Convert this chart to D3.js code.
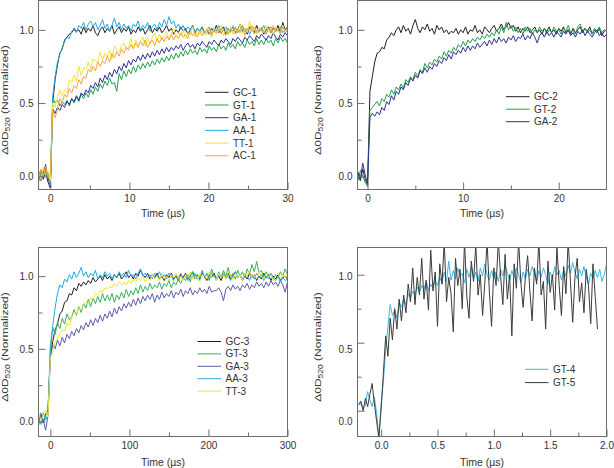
<!DOCTYPE html>
<html><head><meta charset="utf-8">
<script src="https://cdn.jsdelivr.net/npm/d3@7"></script>
<style>body{margin:0;background:#fff}text{font-family:"Liberation Sans",Arial,Helvetica,sans-serif}</style>
</head><body><svg id="c" width="614" height="468"></svg>
<script>
// ---------- time sampling (start, step) per panel ----------
const p1Time = {start: -1.5, step: 0.3};
const p2Time = {start: -1.0, step: 0.25};
const p3Time = {start: -15, step: 3};
const p4Time = {start: -0.2, step: 0.02};

// ---------- series names ----------
const p1Names = ["GC-1", "GT-1", "GA-1", "AA-1", "TT-1", "AC-1"];
const p2Names = ["GC-2", "GT-2", "GA-2"];
const p3Names = ["GC-3", "GT-3", "GA-3", "AA-3", "TT-3"];
const p4Names = ["GT-4", "GT-5"];

// ---------- tick values ----------
const p1XTicks = [0, 10, 20, 30], p1XMinor = [5, 15, 25];
const p2XTicks = [0, 10, 20], p2XMinor = [5, 15];
const p3XTicks = [0, 100, 200, 300], p3XMinor = [50, 150, 250];
const p4XTicks = [0, 0.5, 1.0, 1.5, 2.0], p4XMinor = [0.25, 0.75, 1.25, 1.75];
const yTicks = [0, 0.5, 1.0], yMinor = [0.25, 0.75];

// ---------- panel 1 series (normalized ΔOD) ----------
const gc1 = [0.00,0.04,-0.02,0.03,-0.04,-0.08,0.50,0.66,0.76,0.84,
0.87,0.93,0.95,0.97,0.98,1.01,0.99,1.00,0.97,1.02,
0.98,1.01,0.99,1.03,0.98,0.96,1.00,1.02,0.98,1.01,
0.99,1.03,0.97,1.00,1.02,0.98,1.01,0.99,1.02,0.97,
1.00,0.98,1.02,0.99,1.01,0.97,1.00,1.03,0.98,1.01,
0.99,1.02,0.98,1.00,1.03,0.99,1.01,0.97,1.00,0.98,
1.02,0.99,1.01,0.97,1.00,1.03,0.98,1.01,0.99,1.02,
0.98,1.00,0.97,1.01,0.99,1.03,0.98,1.00,1.02,0.97,
1.01,0.99,1.02,0.98,1.00,1.04,0.99,1.01,0.97,1.02,
1.00,0.98,1.03,0.99,1.01,0.97,1.00,1.02,0.98,1.01,
0.99,1.03,0.98,1.05,1.00,1.02];
const gt1 = [-0.04,0.02,-0.01,0.05,0.00,-0.06,0.54,0.50,0.52,0.48,
0.51,0.49,0.52,0.48,0.53,0.50,0.54,0.51,0.56,0.53,
0.57,0.54,0.59,0.56,0.61,0.58,0.63,0.60,0.65,0.62,
0.67,0.63,0.64,0.58,0.70,0.66,0.72,0.68,0.73,0.70,
0.75,0.71,0.76,0.73,0.77,0.74,0.78,0.75,0.79,0.76,
0.80,0.77,0.81,0.78,0.82,0.79,0.83,0.80,0.84,0.81,
0.85,0.82,0.86,0.83,0.87,0.84,0.86,0.83,0.88,0.85,
0.87,0.84,0.89,0.86,0.88,0.85,0.90,0.87,0.89,0.86,
0.91,0.88,0.90,0.87,0.92,0.89,0.91,0.88,0.93,0.90,
0.92,0.89,0.94,0.90,0.93,0.90,0.94,0.91,0.93,0.89,
0.94,0.91,0.95,0.92,0.94,0.91];
const ga1 = [0.04,-0.03,0.02,0.08,-0.02,-0.05,0.46,0.43,0.47,0.45,
0.49,0.47,0.51,0.49,0.53,0.51,0.55,0.52,0.57,0.55,
0.59,0.57,0.62,0.60,0.64,0.61,0.67,0.64,0.69,0.66,
0.71,0.68,0.73,0.70,0.75,0.72,0.77,0.74,0.79,0.76,
0.80,0.78,0.82,0.79,0.83,0.80,0.84,0.81,0.85,0.82,
0.86,0.83,0.87,0.84,0.88,0.85,0.88,0.86,0.89,0.87,
0.90,0.86,0.89,0.91,0.88,0.90,0.87,0.91,0.89,0.92,
0.90,0.88,0.92,0.90,0.93,0.91,0.89,0.93,0.91,0.94,
0.92,0.90,0.94,0.92,0.95,0.93,0.91,0.95,0.93,0.96,
0.94,0.92,0.96,0.94,0.97,0.95,0.93,0.96,0.94,0.98,
0.95,0.93,0.97,0.95,0.98,0.96];
const aa1 = [0.02,-0.03,0.05,0.00,0.03,-0.06,0.55,0.68,0.78,0.83,
0.88,0.92,0.95,0.94,0.99,1.00,0.98,1.03,1.01,1.05,
1.00,1.04,1.06,1.02,1.05,1.00,1.03,1.07,1.01,1.04,
0.99,1.03,1.08,1.02,1.05,1.00,1.04,1.01,1.03,0.99,
1.04,1.02,1.06,1.00,1.03,1.01,1.05,0.99,1.02,1.04,
1.00,1.05,1.02,1.07,1.03,1.09,1.04,1.06,1.01,1.04,
1.00,1.03,0.99,1.02,1.00,1.03,0.98,1.01,0.99,1.02,
0.98,1.00,1.02,0.97,1.01,0.99,1.03,0.98,1.00,1.02,
0.97,1.01,0.99,1.02,0.98,1.00,1.03,0.99,1.01,0.97,
1.00,1.02,0.98,1.01,0.99,1.03,0.98,1.00,1.02,0.97,
1.01,0.99,1.02,0.98,1.00,0.99];
const tt1 = [0.03,-0.02,0.06,0.01,0.04,-0.03,0.50,0.47,0.54,0.59,
0.55,0.59,0.57,0.66,0.64,0.69,0.65,0.75,0.69,0.74,
0.73,0.78,0.73,0.80,0.79,0.78,0.85,0.79,0.84,0.82,
0.86,0.80,0.89,0.86,0.85,0.89,0.91,0.87,0.88,0.94,
0.87,0.93,0.90,0.92,0.95,0.89,0.95,0.90,0.95,0.98,
0.92,0.97,0.93,0.96,0.99,0.94,0.97,1.01,0.95,0.98,
0.96,1.00,0.94,0.98,0.97,1.02,0.95,0.99,0.97,1.00,
0.96,1.01,0.98,0.95,1.02,0.97,0.99,1.03,0.96,1.00,
0.98,1.02,0.97,1.00,0.99,1.04,0.97,1.01,0.98,1.06,
0.99,1.02,0.97,1.01,1.00,0.98,1.03,0.99,1.01,0.97,
1.02,1.00,0.98,1.03,0.99,1.01];
const ac1 = [-0.02,0.05,0.00,0.07,-0.01,0.02,0.44,0.40,0.46,0.53,
0.50,0.56,0.54,0.60,0.57,0.62,0.60,0.66,0.63,0.68,
0.67,0.73,0.71,0.75,0.72,0.78,0.75,0.79,0.77,0.82,
0.78,0.84,0.81,0.85,0.82,0.87,0.84,0.88,0.86,0.90,
0.87,0.91,0.88,0.92,0.89,0.93,0.88,0.91,0.93,0.89,
0.94,0.91,0.95,0.92,0.96,0.93,0.97,0.93,0.96,0.94,
0.98,0.95,0.97,0.94,0.99,0.96,0.98,0.95,1.00,0.96,
0.99,0.97,1.01,0.96,0.99,0.98,1.02,0.97,1.00,0.96,
1.01,0.98,1.03,0.97,1.00,0.98,1.02,0.96,1.01,0.99,
1.03,0.97,1.00,0.98,1.02,0.99,0.97,1.01,0.98,1.03,
0.99,1.00,0.97,1.02,0.98,1.00];

// ---------- panel 2 series ----------
const gc2 = [0.02,-0.03,0.05,-0.02,-0.06,0.58,0.68,0.78,0.84,0.85,
0.88,0.87,0.93,0.95,0.98,0.96,1.00,1.02,0.98,1.03,
0.99,1.01,0.97,1.03,1.07,1.01,0.98,1.02,1.00,1.04,
0.99,1.01,0.97,1.03,1.00,1.02,0.98,1.00,0.97,0.99,
0.98,1.01,0.97,1.00,0.98,1.02,0.97,1.00,0.99,1.03,
0.98,1.00,0.97,1.02,1.00,0.98,1.01,1.03,0.99,1.01,
1.04,1.00,1.02,1.05,1.01,1.03,0.99,1.02,0.98,1.01,
0.99,1.02,0.98,1.00,1.02,0.98,1.00,0.97,1.01,0.99,
1.02,0.98,1.00,0.97,1.01,0.99,1.02,0.98,1.00,0.97,
1.01,0.98,1.00,1.02,0.98,1.01,0.99,1.02,0.97,1.00,
0.98,1.01,0.96,0.99,1.00];
const gt2 = [-0.03,0.04,0.00,-0.04,-0.07,0.45,0.47,0.49,0.51,0.48,
0.53,0.51,0.56,0.54,0.59,0.56,0.61,0.59,0.63,0.60,
0.66,0.64,0.68,0.66,0.71,0.68,0.73,0.71,0.77,0.74,
0.78,0.76,0.80,0.78,0.82,0.80,0.85,0.82,0.86,0.84,
0.88,0.86,0.90,0.88,0.92,0.89,0.93,0.91,0.94,0.92,
0.95,0.93,0.96,0.94,0.97,0.95,0.98,0.96,1.00,0.97,
1.02,0.98,1.05,1.00,1.03,0.99,1.02,0.98,1.01,0.97,
1.02,0.99,1.01,0.97,1.00,0.98,1.02,0.99,1.01,0.97,
1.00,0.98,1.02,0.99,1.00,0.97,1.01,0.99,1.03,0.98,
1.00,0.97,1.02,1.04,0.99,1.01,0.98,1.00,0.97,1.01,
0.99,1.02,0.98,1.00,0.99];
const ga2 = [0.03,-0.02,0.09,0.01,-0.05,0.40,0.43,0.41,0.44,0.42,
0.47,0.45,0.51,0.49,0.55,0.52,0.58,0.56,0.61,0.59,
0.64,0.62,0.67,0.65,0.69,0.67,0.72,0.70,0.74,0.71,
0.75,0.73,0.77,0.75,0.79,0.77,0.81,0.79,0.83,0.80,
0.85,0.83,0.86,0.84,0.88,0.85,0.89,0.86,0.89,0.87,
0.91,0.88,0.90,0.92,0.89,0.93,0.90,0.94,0.91,0.95,
0.92,0.94,0.91,0.95,0.93,0.96,0.92,0.95,0.94,0.97,
0.93,0.96,0.94,0.98,0.95,0.91,0.96,0.98,0.95,0.99,
0.96,0.98,0.95,0.99,0.97,0.95,0.99,0.97,1.00,0.96,
0.98,0.95,0.99,0.97,1.00,0.96,0.99,0.97,0.95,0.98,
1.00,0.96,0.98,0.95,0.97];

// ---------- panel 3 series ----------
const gc3 = [0.00,0.04,-0.01,0.05,0.08,0.45,0.55,0.63,0.67,0.74,
0.76,0.82,0.83,0.88,0.87,0.92,0.90,0.95,0.93,0.96,
0.94,0.97,0.95,0.99,0.96,0.98,1.00,0.97,1.01,0.98,
1.00,0.97,1.01,0.99,1.02,0.98,1.00,1.03,0.99,1.01,
0.98,1.02,1.00,1.04,1.01,0.99,1.02,0.98,1.01,0.99,
1.02,0.98,1.00,0.97,1.01,0.99,1.02,0.98,1.00,0.97,
1.01,0.99,1.02,0.98,1.00,1.03,0.99,1.01,0.98,1.02,
1.00,0.97,1.01,0.99,1.02,0.98,1.00,0.97,1.01,0.99,
1.02,0.98,1.00,1.03,0.99,1.01,0.97,1.00,0.98,1.02,
0.99,1.01,0.97,1.00,0.98,1.02,0.99,1.01,0.97,1.00,
0.98,1.01,0.97,0.99,1.00,0.98];
const gt3 = [0.02,0.06,-0.01,0.04,0.07,0.52,0.65,0.60,0.68,0.64,
0.71,0.67,0.74,0.70,0.72,0.77,0.73,0.79,0.75,0.81,
0.78,0.84,0.79,0.85,0.81,0.86,0.82,0.88,0.83,0.87,
0.83,0.88,0.82,0.87,0.84,0.89,0.85,0.91,0.86,0.90,
0.87,0.92,0.88,0.94,0.89,0.93,0.90,0.95,0.91,0.94,
0.92,0.96,0.91,0.95,0.93,0.97,0.92,0.96,0.94,0.98,
0.95,0.99,0.97,1.01,0.96,1.03,0.98,1.01,0.97,1.04,
0.99,1.02,0.97,1.05,1.00,0.98,1.03,0.99,1.04,1.00,
1.06,0.99,1.02,0.98,1.04,1.00,1.03,0.99,1.05,1.01,
1.08,1.03,1.10,1.02,1.04,0.99,1.03,1.00,1.02,0.98,
1.01,0.99,1.03,1.00,1.05,1.01];
const ga3 = [-0.03,0.05,0.01,-0.06,0.04,0.44,0.53,0.50,0.56,0.52,
0.58,0.54,0.60,0.57,0.62,0.59,0.64,0.61,0.66,0.63,
0.68,0.65,0.70,0.66,0.71,0.68,0.73,0.69,0.74,0.71,
0.76,0.72,0.78,0.74,0.79,0.76,0.81,0.78,0.82,0.79,
0.84,0.80,0.85,0.81,0.86,0.83,0.87,0.84,0.88,0.82,
0.87,0.84,0.89,0.85,0.88,0.86,0.90,0.85,0.89,0.87,
0.91,0.86,0.90,0.88,0.92,0.87,0.90,0.88,0.92,0.89,
0.91,0.88,0.93,0.89,0.90,0.90,0.92,0.89,0.83,0.91,
0.93,0.90,0.94,0.91,0.93,0.90,0.94,0.92,0.95,0.91,
0.94,0.92,0.96,0.93,0.95,0.92,0.96,0.93,0.97,0.94,
0.96,0.93,0.97,0.94,0.89,0.96];
const aa3 = [0.03,-0.02,0.06,0.01,0.05,0.47,0.66,0.78,0.88,0.94,
0.92,0.98,0.96,1.01,0.98,1.03,0.99,1.02,1.06,1.00,
1.03,0.99,1.02,1.00,1.04,0.98,1.01,0.99,1.03,1.00,
1.02,0.98,1.01,0.99,1.03,1.00,1.02,0.99,1.04,1.00,
1.01,0.98,1.02,1.05,1.00,1.02,0.99,1.01,0.98,1.02,
1.00,1.03,0.99,1.01,0.98,1.02,1.00,0.97,1.01,0.99,
1.02,0.98,1.00,0.97,1.01,0.99,1.02,0.98,1.00,1.03,
0.99,1.01,0.98,1.02,1.00,0.97,1.01,0.99,1.02,0.98,
1.00,0.97,1.01,1.03,0.99,1.01,0.98,1.02,1.00,0.97,
1.01,0.98,1.02,0.99,1.01,0.97,1.00,0.98,1.02,0.99,
0.97,1.00,0.96,0.99,0.97,0.98];
const tt3 = [0.06,0.01,0.04,0.08,0.03,0.44,0.48,0.55,0.57,0.60,
0.63,0.62,0.68,0.66,0.71,0.75,0.74,0.78,0.77,0.81,
0.82,0.81,0.85,0.84,0.88,0.87,0.90,0.89,0.92,0.91,
0.93,0.92,0.95,0.93,0.96,0.94,0.96,0.94,0.97,0.95,
0.98,0.96,0.99,0.97,1.00,0.96,0.99,0.97,1.01,0.98,
1.00,0.97,1.02,0.98,1.00,0.97,1.01,0.99,1.02,0.98,
1.00,0.97,1.01,0.99,1.03,0.98,1.00,0.97,1.02,0.99,
1.01,0.98,1.03,0.99,1.00,0.97,1.02,0.99,1.01,0.98,
1.03,1.00,0.98,1.02,0.99,1.01,0.97,1.02,1.00,1.04,
0.99,1.01,0.98,1.03,1.00,0.98,1.02,0.99,1.01,0.97,
1.00,1.02,0.98,1.01,0.99,1.02];

// ---------- panel 4 series ----------
const gt4 = [0.06,0.05,0.02,0.04,0.14,0.08,0.03,0.10,-0.02,-0.20,
0.05,0.22,0.45,0.62,0.78,0.70,0.74,0.68,0.80,0.76,
0.82,0.78,0.86,0.83,0.88,0.85,0.91,0.87,0.92,0.89,
0.95,0.88,0.93,0.90,0.96,0.92,0.98,0.94,1.02,0.95,
1.10,0.96,1.03,0.97,1.05,0.99,1.01,0.94,1.04,0.98,
1.06,0.97,1.02,0.95,1.05,0.99,1.08,1.00,0.96,1.03,
0.97,1.02,0.95,1.04,0.99,1.07,1.01,0.96,1.03,0.98,
1.05,1.00,0.94,1.02,0.97,1.04,0.99,1.06,1.01,0.95,
1.03,0.98,1.05,1.00,0.93,1.02,0.97,1.06,1.00,1.03,
0.96,1.04,0.99,1.07,1.01,1.09,1.02,0.97,1.04,0.99,
1.06,0.98,0.93,1.01,0.97,1.03,0.98,1.04,0.95,1.00,1.08];
const gt5 = [0.04,0.07,0.00,0.09,0.03,0.12,0.20,0.05,-0.08,-0.20,
0.02,0.28,0.55,0.40,0.68,0.52,0.75,0.60,0.82,0.66,
0.85,0.72,0.93,0.80,1.05,0.78,0.98,0.85,1.12,0.82,
0.96,0.74,1.18,0.88,1.02,0.62,1.08,0.93,1.25,0.80,
0.98,0.86,0.58,1.12,0.92,1.04,0.75,1.25,0.84,0.68,
1.10,0.95,1.22,0.85,1.00,0.70,0.94,1.25,0.88,0.62,
1.05,0.92,1.25,0.99,0.78,1.15,0.82,1.00,0.55,1.08,
0.90,1.25,0.94,0.76,0.98,1.14,0.88,0.66,1.05,0.93,
1.25,0.85,0.95,0.60,1.10,0.87,1.00,0.74,1.20,0.92,
0.70,1.06,0.86,1.25,0.95,0.65,0.98,1.12,0.80,0.94,
0.72,1.04,0.92,0.64,1.08,0.84,0.60];

// ---------- colours ----------
const C = {GC:"#231f20", GT:"#22a04b", GA:"#2e3192", AA:"#27aae1", TT:"#f5e23a", AC:"#f3a640",
           GA3:"#5a5ca8", GT3:"#3cae5a", GT4:"#3cb6e3", GT5:"#3b3b3b"};
const frameColor = "#6d6d6d", textColor = "#333";

const panels = [
  {box:[38.5,0.5,287.5,189.5], xd:[-1.5,30], yd:[-0.09,1.2], xt:p1XTicks, xm:p1XMinor, xf:"d",
   time:p1Time, names:p1Names, data:[gc1,gt1,ga1,aa1,tt1,ac1], cols:[C.GC,C.GT,C.GA,C.AA,C.TT,C.AC],
   leg:[205,92.3,12.7], ylabX:7.8, xlabY:217},
  {box:[357.5,0.5,606.5,189.5], xd:[-1.05,25], yd:[-0.09,1.2], xt:p2XTicks, xm:p2XMinor, xf:"d",
   time:p2Time, names:p2Names, data:[gc2,gt2,ga2], cols:[C.GC,C.GT,C.GA],
   leg:[506,96.7,12.5], ylabX:320.5, xlabY:217},
  {box:[38.5,247.5,287.5,436.5], xd:[-15,300], yd:[-0.103,1.197], xt:p3XTicks, xm:p3XMinor, xf:"d",
   time:p3Time, names:p3Names, data:[gc3,gt3,ga3,aa3,tt3], cols:[C.GC,C.GT3,C.GA3,C.AA,C.TT],
   leg:[197.5,341.5,12.4], ylabX:7.8, xlabY:466},
  {box:[357.5,247.5,606.5,436.5], xd:[-0.21,2.0], yd:[-0.19,1.2], xt:p4XTicks, xm:p4XMinor, xf:".1f",
   time:p4Time, names:p4Names, data:[gt4,gt5], cols:[C.GT4,C.GT5],
   leg:[525,369.3,13.3], ylabX:320.5, xlabY:466, labelYd:[-0.103,1.197]}
];

const svg = d3.select("#c");
svg.append("rect").attr("width",614).attr("height",468).attr("fill","#fff");
const defs = svg.append("defs");

function styleAxis(g){
  g.select(".domain").remove();
  g.selectAll(".tick line").attr("stroke",frameColor);
  g.selectAll(".tick text").attr("fill",textColor).style("font-size","10px")
   .style("font-family",'"Liberation Sans",Arial,sans-serif');
}

panels.forEach((p,k)=>{
  const [L,T,R,B] = p.box;
  const x = d3.scaleLinear().domain(p.xd).range([L,R]);
  const y = d3.scaleLinear().domain(p.yd).range([B,T]);
  const g = svg.append("g");
  defs.append("clipPath").attr("id","clip"+k).append("rect")
    .attr("x",L).attr("y",T).attr("width",R-L).attr("height",B-T);

  const line = d3.line().x((d,i)=>x(p.time.start+i*p.time.step)).y(d=>y(d));
  const traces = g.append("g").attr("clip-path",`url(#clip${k})`);
  p.data.forEach((s,j)=>{
    traces.append("path").datum(s).attr("fill","none").attr("stroke",p.cols[j])
      .attr("stroke-width",1).attr("stroke-linejoin","round").attr("d",line);
  });

  g.append("rect").attr("x",L).attr("y",T).attr("width",R-L).attr("height",B-T)
    .attr("fill","none").attr("stroke",frameColor).attr("stroke-width",1);

  // x axis
  g.append("g").attr("transform",`translate(0,${B})`)
    .call(d3.axisBottom(x).tickValues(p.xt).tickSize(-7).tickPadding(5).tickFormat(d3.format(p.xf))).call(styleAxis);
  g.append("g").attr("transform",`translate(0,${B})`)
    .call(d3.axisBottom(x).tickValues(p.xm).tickSize(-4).tickFormat("")).call(styleAxis);

  // y axis
  if(p.labelYd){
    const yl = d3.scaleLinear().domain(p.labelYd).range([B,T]);
    g.append("g").attr("transform",`translate(${L},0)`)
      .call(d3.axisLeft(y).tickValues(yTicks).tickSize(-7).tickFormat("")).call(styleAxis);
    g.append("g").attr("transform",`translate(${L},0)`)
      .call(d3.axisLeft(yl).tickValues(yTicks).tickSize(0).tickPadding(5).tickFormat(d3.format(".1f"))).call(styleAxis);
  } else {
    g.append("g").attr("transform",`translate(${L},0)`)
      .call(d3.axisLeft(y).tickValues(yTicks).tickSize(-7).tickPadding(5).tickFormat(d3.format(".1f"))).call(styleAxis);
  }
  g.append("g").attr("transform",`translate(${L},0)`)
    .call(d3.axisLeft(y).tickValues(yMinor).tickSize(-4).tickFormat("")).call(styleAxis);

  // axis titles
  g.append("text").attr("x",(L+R)/2).attr("y",p.xlabY).attr("text-anchor","middle")
    .attr("fill",textColor).style("font-size","10.5px").text("Time (µs)");
  const yt = g.append("text").attr("transform",`translate(${p.ylabX},${(T+B)/2+5}) scale(0.78,1) rotate(-90)`)
    .attr("text-anchor","middle").attr("fill",textColor).style("font-size","12px");
  yt.append("tspan").text("Δ0D");
  yt.append("tspan").attr("dy",2.6).style("font-size","8.5px").text("520");
  yt.append("tspan").attr("dy",-2.6).text(" (Normalized)");

  // legend
  const [lx,ly,ls] = p.leg;
  p.names.forEach((n,j)=>{
    const yy = ly + j*ls;
    g.append("line").attr("x1",lx).attr("x2",lx+23.5).attr("y1",yy).attr("y2",yy)
      .attr("stroke",p.cols[j]).attr("stroke-width",1);
    g.append("text").attr("x",lx+28).attr("y",yy).attr("dy","0.35em").attr("fill",textColor)
      .style("font-size","10px").text(n);
  });
});
</script></body></html>
